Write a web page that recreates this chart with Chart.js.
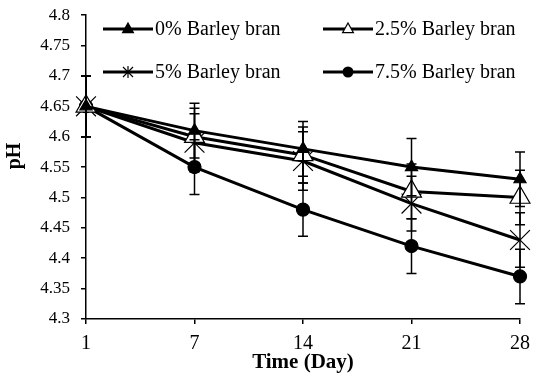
<!DOCTYPE html>
<html>
<head>
<meta charset="utf-8">
<script src="https://cdn.jsdelivr.net/npm/chart.js@4/dist/chart.umd.min.js"></script>
<style>
    body { margin: 0; background: #fff; }
    #wrap { width: 536px; height: 376px; position: relative; }
</style>
</head>
<body>
<div id="wrap"><canvas id="phChart"></canvas></div>
<script>
const days = ['1', '7', '14', '21', '28'];
const yTicks = [4.3, 4.35, 4.4, 4.45, 4.5, 4.55, 4.6, 4.65, 4.7, 4.75, 4.8];

const labels = ['0% Barley bran', '2.5% Barley bran', '5% Barley bran', '7.5% Barley bran'];

const ph0 = [4.65, 4.61, 4.58, 4.55, 4.53];
const ph25 = [4.65, 4.60, 4.57, 4.51, 4.50];
const ph5 = [4.65, 4.59, 4.56, 4.49, 4.43];
const ph75 = [4.65, 4.55, 4.48, 4.42, 4.37];

const err0 = [0.05, 0.045, 0.045, 0.047, 0.045];
const err25 = [0.05, 0.047, 0.046, 0.045, 0.045];
const err5 = [0.05, 0.048, 0.048, 0.045, 0.045];
const err75 = [0.05, 0.045, 0.044, 0.045, 0.045];

const serif = '"Liberation Serif", "Times New Roman", serif';

function drawMarker(ctx, kind, x, y) {
    ctx.save();
    ctx.strokeStyle = '#000';
    ctx.fillStyle = '#000';
    ctx.lineWidth = 1.2;
    ctx.beginPath();
    if (kind === 'triFilled' || kind === 'triOpen') {
        const r = 6;
        ctx.moveTo(x, y - r);
        ctx.lineTo(x + r * 0.9, y + r * 0.6);
        ctx.lineTo(x - r * 0.9, y + r * 0.6);
        ctx.closePath();
        if (kind === 'triOpen') {
            ctx.fillStyle = '#fff';
        }
        ctx.fill();
        ctx.stroke();
    } else if (kind === 'star') {
        const r = 5;
        ctx.moveTo(x - r, y - r); ctx.lineTo(x + r, y + r);
        ctx.moveTo(x + r, y - r); ctx.lineTo(x - r, y + r);
        ctx.moveTo(x, y - r * 1.2); ctx.lineTo(x, y + r * 1.2);
        ctx.stroke();
    } else {
        ctx.arc(x, y, 5.5, 0, Math.PI * 2);
        ctx.fill();
    }
    ctx.restore();
}

const legendMarkers = ['triFilled', 'triOpen', 'star', 'circle'];

// legend sits inside the plot area, 2 columns x 2 rows
const insideLegend = {
    id: 'insideLegend',
    afterDraw(chart) {
        const ctx = chart.ctx;
        const cols = [103, 323];
        const rows = [29, 72];
        chart.data.datasets.forEach((ds, i) => {
            const x = cols[i % 2];
            const y = rows[Math.floor(i / 2)];
            ctx.save();
            ctx.strokeStyle = '#000';
            ctx.lineWidth = 3;
            ctx.beginPath();
            ctx.moveTo(x, y);
            ctx.lineTo(x + 50, y);
            ctx.stroke();
            drawMarker(ctx, legendMarkers[i], x + 25, y);
            ctx.fillStyle = '#000';
            ctx.font = '20px ' + serif;
            ctx.textBaseline = 'middle';
            ctx.textAlign = 'left';
            ctx.fillText(ds.label, x + 52, y + 1);
            ctx.restore();
        });

        // y axis title, placed a bit above the axis centre like the original
        ctx.save();
        ctx.translate(15, 156);
        ctx.rotate(-Math.PI / 2);
        ctx.fillStyle = '#000';
        ctx.font = 'bold 20px ' + serif;
        ctx.textAlign = 'center';
        ctx.textBaseline = 'middle';
        ctx.fillText('pH', 0, 0);
        ctx.restore();
    }
};

const errorBars = {
    id: 'errorBars',
    afterDatasetsDraw(chart) {
        const ctx = chart.ctx;
        const yScale = chart.scales.y;
        ctx.save();
        ctx.strokeStyle = '#000';
        ctx.lineWidth = 1.5;
        chart.data.datasets.forEach((ds, i) => {
            const meta = chart.getDatasetMeta(i);
            ds.data.forEach((v, j) => {
                const px = meta.data[j].x;
                const top = yScale.getPixelForValue(v + ds.errors[j]);
                const bot = yScale.getPixelForValue(v - ds.errors[j]);
                ctx.beginPath();
                ctx.moveTo(px, top); ctx.lineTo(px, bot);
                ctx.moveTo(px - 5, top); ctx.lineTo(px + 5, top);
                ctx.moveTo(px - 5, bot); ctx.lineTo(px + 5, bot);
                ctx.stroke();
            });
        });
        ctx.restore();
    }
};

function series(label, values, errors, style, radius, fill) {
    return {
        label: label,
        data: values,
        errors: errors,
        borderColor: '#000',
        borderWidth: 3,
        tension: 0,
        pointStyle: style,
        pointRadius: radius,
        pointHoverRadius: radius,
        pointBackgroundColor: fill,
        pointBorderColor: '#000',
        pointBorderWidth: 1.2
    };
}

new Chart(document.getElementById('phChart'), {
    type: 'line',
    data: {
        labels: days,
        datasets: [
            series(labels[0], ph0, err0, 'triangle', 7, '#000'),
            series(labels[1], ph25, err25, 'triangle', 11.5, '#fff'),
            series(labels[2], ph5, err5, 'crossRot', 14, '#000'),
            series(labels[3], ph75, err75, 'circle', 6.5, '#000')
        ]
    },
    options: {
        responsive: true,
        maintainAspectRatio: false,
        animation: false,
        layout: { padding: { top: 15, right: 16, left: 0, bottom: 0 } },
        plugins: {
            legend: { display: false },
            tooltip: { enabled: false }
        },
        scales: {
            x: {
                type: 'category',
                offset: false,
                border: { color: '#000', width: 1.5 },
                grid: { drawOnChartArea: false, color: '#000', lineWidth: 1.5, tickLength: 5 },
                ticks: { color: '#000', font: { family: serif, size: 20 }, padding: 8, maxRotation: 0 },
                title: {
                    display: true,
                    text: 'Time (Day)',
                    color: '#000',
                    font: { family: serif, size: 21, weight: 'bold' },
                    padding: { top: 0, bottom: 1 }
                },
                afterFit: scale => {
                    scale.height = 57;
                    scale.paddingLeft = 0;
                    scale.paddingRight = 0;
                }
            },
            y: {
                min: 4.3,
                max: 4.8,
                border: { color: '#000', width: 1.5 },
                grid: { drawOnChartArea: false, color: '#000', lineWidth: 1.5, tickLength: 5 },
                afterBuildTicks: scale => {
                    scale.ticks = yTicks.map(v => ({ value: v }));
                },
                ticks: {
                    color: '#000',
                    font: { family: serif, size: 17 },
                    padding: 11,
                    callback: v => String(+v.toFixed(2))
                },
                afterFit: scale => {
                    scale.width = 86;
                    scale.paddingTop = 5;
                    scale.paddingBottom = 5;
                }
            }
        }
    },
    plugins: [errorBars, insideLegend]
});
</script>
</body>
</html>
